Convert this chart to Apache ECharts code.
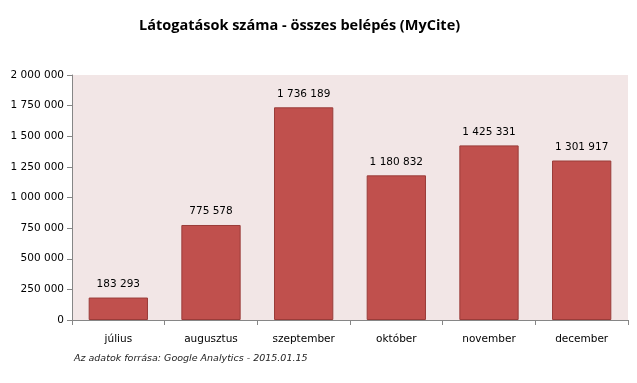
<!DOCTYPE html>
<html><head><meta charset="utf-8">
<script src="https://cdn.jsdelivr.net/npm/echarts@6/dist/echarts.min.js"></script>
<style>html,body{margin:0;padding:0;background:#fff}#c{width:637px;height:383px}</style>
</head><body><div id="c"></div>
<script>
const categories = ['július','augusztus','szeptember','október','november','december'];
const visits = [183293, 775578, 1736189, 1180832, 1425331, 1301917];
const yMin = 0, yMax = 2000000, yStep = 250000;
const titleText = 'Látogatások száma - összes belépés (MyCite)';
const sourceText = 'Az adatok forrása: Google Analytics - 2015.01.15';

function fmt(v){ return String(v).replace(/\B(?=(\d{3})+(?!\d))/g,' '); }

const chart = echarts.init(document.getElementById('c'), null, {renderer:'canvas'});
chart.setOption({
  animation:false,
  backgroundColor:'#fff',
  title:[{
    text:titleText, left:134, top:13,
    textStyle:{fontFamily:'Open Sans', fontWeight:'bold', fontSize:14.5, color:'#000'}
  },{
    text:sourceText, left:69, top:349,
    textStyle:{fontFamily:'DejaVu Sans', fontStyle:'italic', fontWeight:'normal', fontSize:9.5, color:'#222'}
  }],
  grid:{left:72, right:9, top:75, bottom:63, show:true, backgroundColor:'#F2E6E6', borderWidth:0},
  xAxis:{
    type:'category', data:categories,
    axisLine:{lineStyle:{color:'#868686'}},
    axisTick:{show:true, alignWithLabel:false, length:5, inside:false, lineStyle:{color:'#868686'}},
    axisLabel:{fontFamily:'DejaVu Sans', fontSize:10.5, color:'#000', margin:14}
  },
  yAxis:{
    type:'value', min:yMin, max:yMax, interval:yStep,
    axisLine:{show:true, lineStyle:{color:'#868686'}},
    axisTick:{show:true, length:5, lineStyle:{color:'#868686'}},
    splitLine:{show:false},
    axisLabel:{fontFamily:'DejaVu Sans', fontSize:10.5, color:'#000', margin:8, formatter:fmt}
  },
  series:[{
    type:'bar', data:visits, barWidth:'64%',
    itemStyle:{color:'#C0504D', borderColor:'#9A3C39', borderWidth:1},
    label:{show:true, position:'top', distance:8, formatter:p=>fmt(p.value),
      fontFamily:'DejaVu Sans', fontSize:10.5, color:'#000'}
  }]
});
</script></body></html>
